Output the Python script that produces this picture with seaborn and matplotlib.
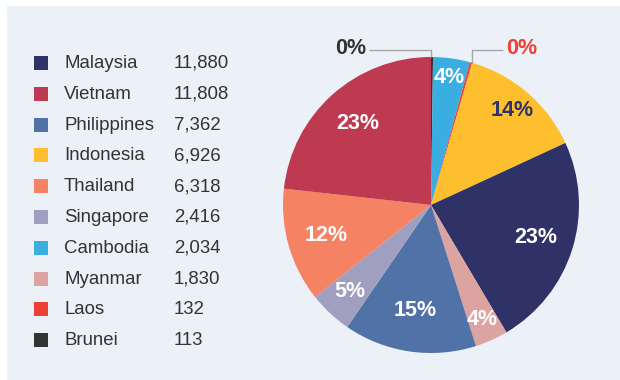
import numpy as np
import matplotlib
matplotlib.use("Agg")
import matplotlib.pyplot as plt
from matplotlib.patches import Rectangle
import seaborn as sns

# Legend order (descending by value)
legend_countries = ["Malaysia", "Vietnam", "Philippines", "Indonesia", "Thailand",
                    "Singapore", "Cambodia", "Myanmar", "Laos", "Brunei"]
legend_values = [11880, 11808, 7362, 6926, 6318, 2416, 2034, 1830, 132, 113]

# Order of wedges, clockwise from 12 o'clock
pie_order = ["Brunei", "Cambodia", "Laos", "Indonesia", "Malaysia",
             "Myanmar", "Philippines", "Singapore", "Thailand", "Vietnam"]

country_colors = {
    "Malaysia": "#2F3267",
    "Vietnam": "#BD3A50",
    "Philippines": "#5172A6",
    "Indonesia": "#FDBF2D",
    "Thailand": "#F48263",
    "Singapore": "#A19FBF",
    "Cambodia": "#3AAEE0",
    "Myanmar": "#DDA3A1",
    "Laos": "#EE4036",
    "Brunei": "#333333",
}
label_colors = {"Indonesia": "#2F3267", "Laos": "#EE4036", "Brunei": "#333333"}

sns.set_theme(style="white")
plt.rcParams["font.family"] = ["Liberation Sans", "DejaVu Sans"]

value_of = dict(zip(legend_countries, legend_values))
pie_values = np.array([value_of[c] for c in pie_order], dtype=float)
palette = sns.color_palette([country_colors[c] for c in pie_order])


def rounded_percents(vals):
    """Whole-number shares that add up to 100 (largest remainder)."""
    raw = vals / vals.sum() * 100
    base = np.floor(raw).astype(int)
    rest = 100 - base.sum()
    order = np.argsort(-(raw - base))
    base[order[:rest]] += 1
    return base


pcts = rounded_percents(pie_values)

W, H = 620, 380
fig = plt.figure(figsize=(W / 100, H / 100), dpi=100)
fig.patch.set_facecolor("white")

# ---- background panel + legend (full-figure axes in pixel units) ----
lax = fig.add_axes([0, 0, 1, 1], zorder=0)
lax.axis("off")
lax.add_patch(Rectangle((7, 6), W - 7, H - 6, facecolor="#ECF0F7",
                        edgecolor="none", zorder=0))
y0, step = 63, 30.8
ys = [y0 + i * step for i in range(len(legend_countries))]
sns.scatterplot(x=[41] * len(ys), y=ys, hue=legend_countries,
                palette=[country_colors[c] for c in legend_countries],
                marker="s", s=100, linewidth=0, legend=False, ax=lax, zorder=2)
lax.set_xlim(0, W)
lax.set_ylim(H, 0)
for y, name, v in zip(ys, legend_countries, legend_values):
    lax.text(64, y + 0.5, name, ha="left", va="center", fontsize=13.4, color="#333333")
    lax.text(174, y + 0.5, f"{v:,}", ha="left", va="center", fontsize=13.4, color="#333333")

# ---- pie ----
cx, cy, r = 431, 205, 148
ax = fig.add_axes([(cx - r) / W, (H - cy - r) / H, 2 * r / W, 2 * r / H], zorder=1)
ax.set_facecolor("none")
wedges, _ = ax.pie(pie_values, colors=palette, startangle=90, counterclock=False,
                   radius=1, wedgeprops=dict(linewidth=0))
ax.set_xlim(-1, 1)
ax.set_ylim(-1, 1)
ax.set_aspect("equal")
ax.axis("off")

lab_dist = {"Malaysia": 0.74, "Vietnam": 0.74, "Philippines": 0.72,
            "Indonesia": 0.84, "Thailand": 0.74, "Singapore": 0.80,
            "Cambodia": 0.87, "Myanmar": 0.85}
pct_size = 15.5
for w, name, p in zip(wedges, pie_order, pcts):
    mid = np.deg2rad((w.theta1 + w.theta2) / 2)
    col = label_colors.get(name, "white")
    if name in lab_dist:
        d = lab_dist[name]
        ax.text(d * np.cos(mid), d * np.sin(mid), f"{p}%", ha="center", va="center",
                fontsize=pct_size, fontweight="bold", color=col)

# Leader lines for the two tiny slices
line_kw = dict(color="#A8A8A8", lw=1, solid_capstyle="butt", clip_on=False)
y_line = (cy - 50) / r
for w, name, p in zip(wedges, pie_order, pcts):
    if name == "Brunei":
        ang = np.deg2rad(w.theta2)
        ex, ey = np.cos(ang), np.sin(ang)
        ax.plot([-(cx - 369) / r, ex, ex], [y_line, y_line, ey], **line_kw)
        ax.text(-(cx - 366) / r, y_line + 0.01, f"{p}%", ha="right", va="center",
                fontsize=pct_size, fontweight="bold", color=label_colors[name])
    elif name == "Laos":
        ang = np.deg2rad(w.theta1)
        ex, ey = np.cos(ang), np.sin(ang)
        ax.plot([(503 - cx) / r, ex, ex], [y_line, y_line, ey], **line_kw)
        ax.text((506 - cx) / r, y_line + 0.01, f"{p}%", ha="left", va="center",
                fontsize=pct_size, fontweight="bold", color=label_colors[name])

fig.savefig("out.png", dpi=100, facecolor=fig.get_facecolor())
